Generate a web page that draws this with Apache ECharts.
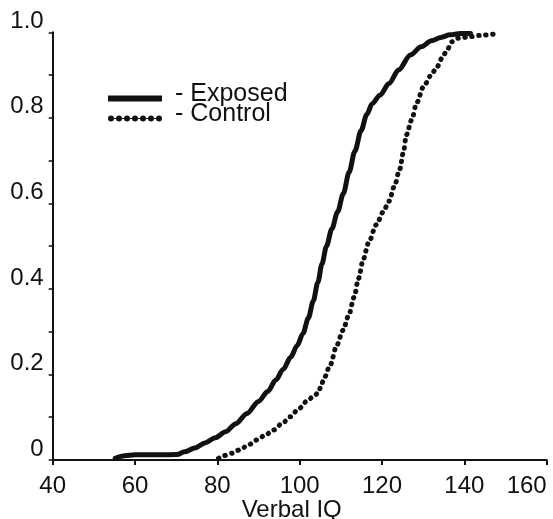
<!DOCTYPE html>
<html>
<head>
<meta charset="utf-8">
<script src="https://cdn.jsdelivr.net/npm/echarts@6/dist/echarts.min.js"></script>
<style>
html,body{margin:0;padding:0;background:#fff;}
#chart{width:553px;height:519px;}
</style>
</head>
<body>
<div id="chart"></div>
<script>
// Verbal IQ (x) and cumulative proportion (y)
var exposedIQ  = [55.2, 57.5, 60, 66, 70.2, 72, 74.5, 77, 79.5, 82, 84.5, 87.2, 90, 92.2, 94.2, 96, 97.8, 99.4, 100.8, 102.1, 103.3, 104.4, 105.4, 106.5, 107.8, 109.2, 110.6, 112.0, 113.4, 114.9, 116.3, 117.6, 119.5, 121.7, 124, 126.9, 129.5, 132, 134.3, 136.5, 139, 141.5];
var exposedCum = [0.004, 0.010, 0.012, 0.012, 0.013, 0.019, 0.028, 0.040, 0.052, 0.066, 0.085, 0.109, 0.137, 0.160, 0.187, 0.212, 0.240, 0.268, 0.296, 0.332, 0.372, 0.415, 0.458, 0.500, 0.540, 0.580, 0.623, 0.673, 0.722, 0.770, 0.808, 0.833, 0.853, 0.880, 0.912, 0.947, 0.966, 0.980, 0.988, 0.994, 0.997, 0.997];
var controlIQ  = [80.3, 81.5, 83.5, 85.5, 87.5, 89.6, 91.6, 93.6, 95.7, 97.7, 99.8, 101.8, 103.5, 104.6, 105.2, 106.0, 107.4, 109.0, 110.5, 111.9, 113.2, 114.3, 115.4, 116.7, 118.6, 120.3, 121.7, 123.0, 124.3, 125.2, 125.9, 127.2, 128.4, 130.1, 131.8, 133.4, 134.7, 135.8, 137.0, 138.5, 141.5, 144, 147.3];
var controlCum = [0.004, 0.010, 0.016, 0.024, 0.035, 0.047, 0.058, 0.070, 0.085, 0.101, 0.120, 0.138, 0.150, 0.158, 0.175, 0.193, 0.222, 0.268, 0.303, 0.338, 0.380, 0.425, 0.468, 0.507, 0.550, 0.580, 0.605, 0.640, 0.680, 0.720, 0.760, 0.795, 0.835, 0.873, 0.898, 0.920, 0.942, 0.959, 0.978, 0.986, 0.990, 0.993, 0.996];
var seriesNames = ['- Exposed', '- Control'];
var yTickLabels = {0: '0', 2: '0.2', 4: '0.4', 6: '0.6', 8: '0.8', 10: '1.0'};
var xTitle = 'Verbal IQ';

function pairs(xs, ys) { return xs.map(function (x, i) { return [x, ys[i]]; }); }

// legend icons (solid bar / chain of dots); a degenerate point at y=-9 drops the
// visible mark slightly below the text centre, as in the original legend
var solidIcon = 'path://M0,-9L0.01,-9M0,0L54,0L54,6L0,6Z';
var dotIcon = 'path://M0,-9L0.01,-9';
for (var i = 0; i < 7; i++) {
  var cx = 3 + 8 * i;
  dotIcon += 'M' + (cx - 3) + ',3A3,3 0 1,0 ' + (cx + 3) + ',3A3,3 0 1,0 ' + (cx - 3) + ',3Z';
  if (i < 6) dotIcon += 'M' + (cx + 2.9) + ',2.4L' + (cx + 5.1) + ',2.4L' + (cx + 5.1) + ',3.6L' + (cx + 2.9) + ',3.6Z';
}

var font = 'Liberation Sans, Arial, Helvetica, sans-serif';
var chart = echarts.init(document.getElementById('chart'), null, {renderer: 'canvas'});
chart.setOption({
  animation: false,
  backgroundColor: '#fff',
  grid: {left: 52.7, right: 6.3, top: 32.3, bottom: 59, containLabel: false, outerBoundsMode: 'none'},
  legend: {
    orient: 'vertical',
    left: 108,
    top: 81.5,
    padding: 0,
    itemWidth: 54,
    itemHeight: 15,
    itemGap: -5,
    selectedMode: false,
    itemStyle: {color: '#111', borderWidth: 0},
    data: [
      {name: seriesNames[0], icon: solidIcon},
      {name: seriesNames[1], icon: dotIcon}
    ],
    textStyle: {fontFamily: font, fontSize: 25, color: '#111', lineHeight: 20, padding: [0, 0, 0, 8]}
  },
  xAxis: {
    type: 'value', min: 40, max: 160, interval: 20,
    name: xTitle, nameLocation: 'middle', nameGap: 38, nameMoveOverlap: false,
    nameTextStyle: {fontFamily: font, fontSize: 24, color: '#111', padding: [0, 16, 0, 0]},
    axisLine: {onZero: false, lineStyle: {color: '#111', width: 2}},
    axisTick: {show: true, length: 5, lineStyle: {color: '#111', width: 2}},
    axisLabel: {fontFamily: font, fontSize: 24, color: '#111', margin: 14, alignMaxLabel: 'right'},
    splitLine: {show: false}
  },
  yAxis: {
    type: 'value', min: 0, max: 1, interval: 0.1,
    axisLine: {show: true, lineStyle: {color: '#111', width: 2}},
    axisTick: {show: true, length: 4, lineStyle: {color: '#111', width: 1.5}},
    axisLabel: {
      fontFamily: font, fontSize: 24, color: '#111', margin: 9, verticalAlign: 'bottom', lineHeight: 22,
      formatter: function (v) { var k = Math.round(v * 10); return yTickLabels[k] !== undefined ? yTickLabels[k] : ''; }
    },
    splitLine: {show: false}
  },
  series: [
    {
      name: seriesNames[0], type: 'line', data: pairs(exposedIQ, exposedCum),
      showSymbol: false, symbol: 'none', smooth: 0.3, smoothMonotone: 'x',
      lineStyle: {color: '#111', width: 5, cap: 'round', join: 'round'},
      itemStyle: {color: '#111'}
    },
    {
      name: seriesNames[1], type: 'line', data: pairs(controlIQ, controlCum),
      showSymbol: false, symbol: 'none', smooth: 0.3, smoothMonotone: 'x',
      lineStyle: {color: '#111', width: 5, type: [0.5, 6.5], cap: 'round', join: 'round'},
      itemStyle: {color: '#111'}
    }
  ]
});
</script>
</body>
</html>
